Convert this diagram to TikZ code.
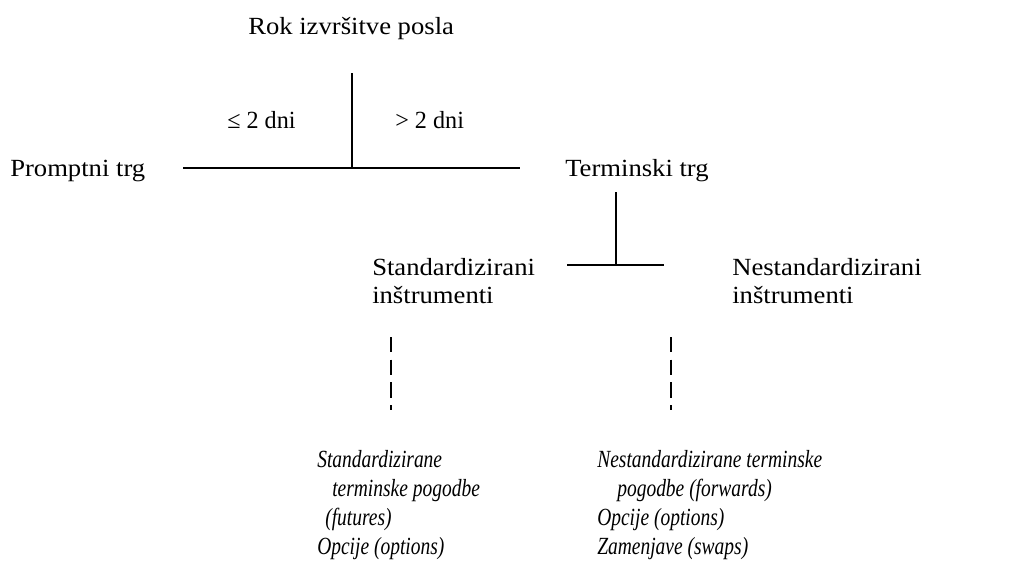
\documentclass[tikz,border=0pt]{standalone}
\usepackage{fontspec}
\usepackage{graphicx}
\setmainfont{Liberation Serif}
\newcommand{\uptxt}[1]{\scalebox{1.08}[1]{#1}}
\newcommand{\cmptxt}[1]{\scalebox{0.98}[1]{#1}}
\newcommand{\ittxt}[1]{\scalebox{0.79}[1]{\itshape #1}}
\begin{document}
\begin{tikzpicture}[x=0.75pt,y=-0.75pt,
  lbl/.style={anchor=base west,inner sep=0pt,font=\fontsize{18.5}{20}\selectfont},
  ilbl/.style={anchor=base west,inner sep=0pt,font=\fontsize{18.5}{20}\selectfont},
  solidline/.style={line width=1.4pt},
  dashline/.style={line width=1.4pt,dash pattern=on 11.5pt off 5.5pt}]
\useasboundingbox (0,0) rectangle (1016,562);
\node[lbl] (rok) at (248,34) {\uptxt{Rok izvršitve posla}};
\node[lbl] (le) at (227,128) {\cmptxt{≤ 2 dni}};
\node[lbl] (gt) at (395,128) {\cmptxt{> 2 dni}};
\node[lbl] (prompt) at (10,176) {\uptxt{Promptni trg}};
\node[lbl] (term) at (565,176) {\uptxt{Terminski trg}};
\node[lbl] (std) at (372,275) {\uptxt{Standardizirani}};
\node[lbl] (std2) at (372,303) {\uptxt{inštrumenti}};
\node[lbl] (nstd) at (732,275) {\uptxt{Nestandardizirani}};
\node[lbl] (nstd2) at (732,303) {\uptxt{inštrumenti}};
\node[ilbl] (a1) at (317,467) {\ittxt{Standardizirane}};
\node[ilbl] (a2) at (332,496) {\ittxt{terminske pogodbe}};
\node[ilbl] (a3) at (325,525) {\ittxt{(futures)}};
\node[ilbl] (a4) at (317,554) {\ittxt{Opcije (options)}};
\node[ilbl] (b1) at (597,467) {\ittxt{Nestandardizirane terminske}};
\node[ilbl] (b2) at (617,496) {\ittxt{pogodbe (forwards)}};
\node[ilbl] (b3) at (597,525) {\ittxt{Opcije (options)}};
\node[ilbl] (b4) at (597,554) {\ittxt{Zamenjave (swaps)}};
\coordinate (t1) at (352,73);
\coordinate (t2) at (352,168);
\coordinate (h1) at (183,168);
\coordinate (h2) at (520,168);
\coordinate (u1) at (616,192);
\coordinate (u2) at (616,265);
\coordinate (k1) at (567,265);
\coordinate (k2) at (664,265);
\coordinate (d1) at (391,337);
\coordinate (d2) at (391,410);
\coordinate (e1) at (671,337);
\coordinate (e2) at (671,410);
\draw[solidline] (t1) -- (t2);
\draw[solidline] (h1) -- (h2);
\draw[solidline] (u1) -- (u2);
\draw[solidline] (k1) -- (k2);
\draw[dashline] (d1) -- (d2);
\draw[dashline] (e1) -- (e2);
\end{tikzpicture}
\end{document}
